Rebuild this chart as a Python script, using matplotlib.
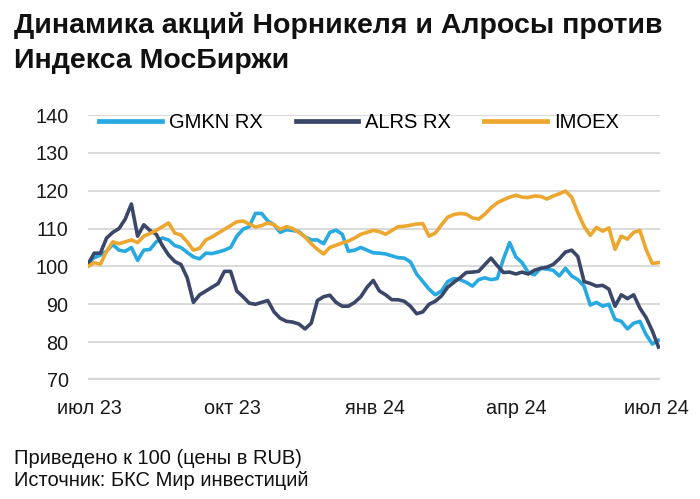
import numpy as np
import pandas as pd
import matplotlib
matplotlib.use("Agg")
import matplotlib.pyplot as plt
import matplotlib.dates as mdates

plt.rcParams['font.family'] = ['Liberation Sans', 'DejaVu Sans']

# data: normalised to 100, sampled every 4 days from 30 Jun 2023
dates = pd.date_range("2023-06-30", periods=93, freq="4D")

gmkn = [101, 102.3, 103, 104, 105.8, 104.3, 104, 105, 101.6, 104.3,
        104.5, 106.5, 107.5, 107, 105.5, 105, 103.7, 102.5, 102, 103.5,
        103.4, 103.8, 104.3, 105, 108, 109.8, 110.5, 114, 114, 112,
        111, 109, 109.7, 109.5, 109.2, 107.8, 107, 107, 106, 109,
        109.6, 108.5, 104, 104.3, 105, 104.3, 103.6, 103.5, 103.3, 102.8,
        102.3, 102.2, 101.2, 98, 96, 94, 92.5, 93.5, 96, 96.8,
        96.5, 95.8, 94.8, 96.5, 97, 96.5, 96.8, 102, 106.3, 102.5,
        101, 98.4, 97.8, 99.5, 99.3, 99, 97.5, 99.5, 97.5, 96.5,
        94.8, 89.8, 90.5, 89.5, 90, 86, 85.5, 83.5, 85, 85.5,
        82, 79.5, 80.5]

alrs = [100.5, 103.5, 103.5, 107.5, 109, 110, 112.5, 116.5, 108, 111,
        109.5, 108.5, 105.5, 103, 101.3, 100.5, 97, 90.5, 92.5, 93.5,
        94.5, 95.5, 98.7, 98.7, 93.5, 92, 90.3, 90, 90.5, 91,
        88, 86.3, 85.5, 85.3, 84.8, 83.5, 85, 91, 92, 92.4,
        90.5, 89.5, 89.5, 90.5, 92, 94.5, 96.3, 93.5, 92.5, 91.2,
        91.2, 90.8, 89.5, 87.5, 88, 90, 90.8, 92.2, 94.5, 95.8,
        97, 98.4, 98.5, 98.7, 100.5, 102.2, 100.2, 98.4, 98.5, 98,
        98.5, 98, 99, 99.5, 99.8, 100.5, 102, 103.8, 104.3, 102.6,
        96, 95.5, 94.8, 95, 94, 89.5, 92.5, 91.5, 92.5, 89,
        86.5, 83, 78.7]

imoex = [100, 101, 100.6, 104, 106.5, 106, 106.5, 107, 106.3, 108,
         108.7, 109.5, 110.5, 111.5, 108.8, 108.3, 106.5, 104.3, 104.8, 107,
         107.8, 108.8, 109.8, 110.8, 111.8, 112, 111.2, 110.4, 110.8, 111.5,
         111, 109.8, 110.5, 110, 109, 107.8, 106, 104.5, 103.3, 105,
         105.6, 106.2, 106.7, 107.5, 108.5, 109, 109.5, 109.2, 108.5, 109.5,
         110.5, 110.6, 110.9, 111.2, 111.3, 108, 108.8, 111, 113, 113.7,
         114, 113.8, 112.8, 112.5, 113.8, 115.5, 116.8, 117.6, 118.3, 118.8,
         118.3, 118.2, 118.6, 118.5, 117.8, 118.6, 119.2, 119.9, 118.3, 114.2,
         110.6, 108.2, 110.3, 109.3, 110.2, 104.5, 108, 107.2, 109, 109.5,
         104.5, 100.8, 101]

series_names = ["GMKN RX", "ALRS RX", "IMOEX"]
colors = ["#27A9E1", "#3B4769", "#EDA72F"]

tick_dates = pd.to_datetime(["2023-07-01", "2023-10-01", "2024-01-01",
                             "2024-04-01", "2024-07-01"])
tick_labels = ["июл 23", "окт 23", "янв 24", "апр 24", "июл 24"]
y_ticks = [70, 80, 90, 100, 110, 120, 130, 140]

fig = plt.figure(figsize=(7, 4.99), dpi=100)
ax = fig.add_axes([0.1257, 0.2385, 0.8172, 0.531])

for vals, name, c in zip([gmkn, alrs, imoex], series_names, colors):
    ax.plot(dates, vals, color=c, lw=2.6, label=name, solid_joinstyle='round', zorder=3)

ax.set_ylim(70, 140)
ax.set_xlim(pd.Timestamp("2023-06-30"), pd.Timestamp("2024-07-03"))
ax.set_yticks(y_ticks)
ax.set_xticks(tick_dates)
ax.set_xticklabels(tick_labels)
for y in y_ticks:
    if y == 70:
        ax.axhline(y, color="#D6D6D6", lw=3.2, zorder=1)
    else:
        ax.axhline(y, color="#CFCFCF", lw=1.1, zorder=1)

for s in ax.spines.values():
    s.set_visible(False)
ax.tick_params(axis='both', length=0, labelsize=14.3, colors="#1a1a1a")
ax.tick_params(axis='y', pad=14)
ax.tick_params(axis='x', pad=14)

leg = ax.legend(loc='center', bbox_to_anchor=(0.474, 0.97), ncol=3, frameon=False,
                fontsize=14.5, handlelength=3.1, handletextpad=0.35,
                columnspacing=1.65)
for h in leg.get_lines():
    h.set_linewidth(3.4)

fig.text(0.02, 0.975, "Динамика акций Норникеля и Алросы против\nИндекса МосБиржи",
         ha='left', va='top', fontsize=20.5, fontweight='bold', linespacing=1.45,
         color="#111111")
fig.text(0.02, 0.1, "Приведено к 100 (цены в RUB)\nИсточник: БКС Мир инвестиций",
         ha='left', va='top', fontsize=14.5, linespacing=1.2, color="#111111")

fig.savefig("out.png", dpi=100)
